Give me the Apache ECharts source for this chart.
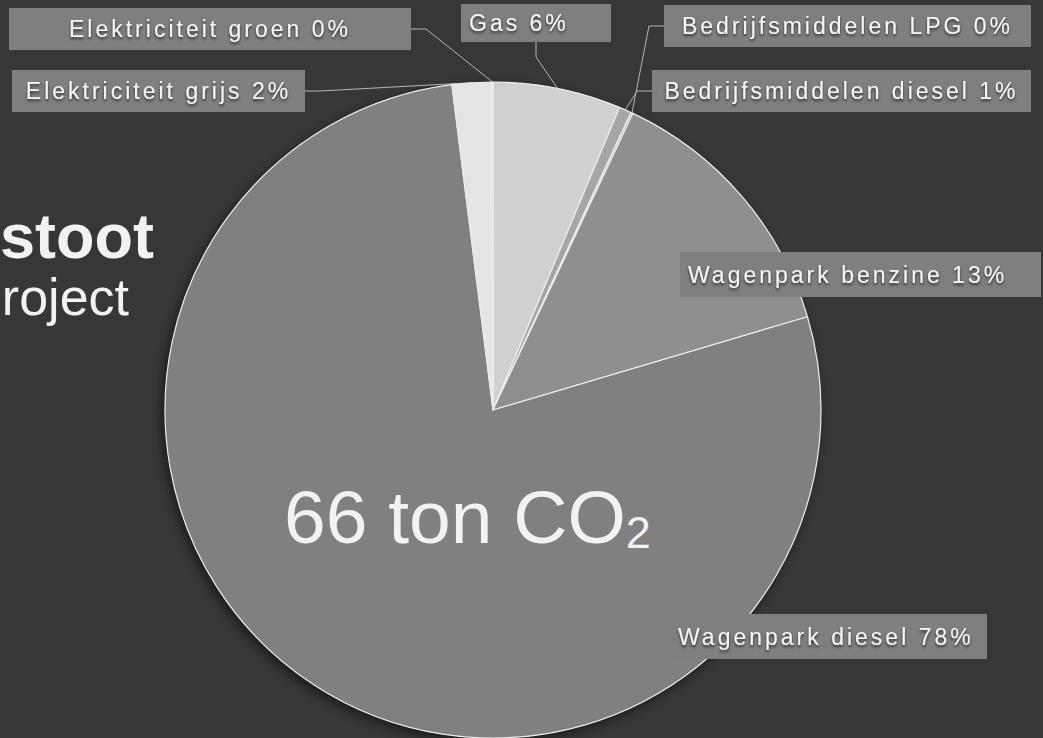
<!DOCTYPE html>
<html><head><meta charset="utf-8">
<script src="https://cdn.jsdelivr.net/npm/echarts@6/dist/echarts.min.js"></script>
<style>
html,body{margin:0;padding:0;background:#363739;overflow:hidden;}
#c{width:1043px;height:738px;}
#c svg text[style*="23px"]{letter-spacing:3px;}
</style></head><body><div id="c"></div>
<script>
// ---- data ----
const categories = ['Gas', 'Bedrijfsmiddelen diesel', 'Bedrijfsmiddelen LPG', 'Wagenpark benzine', 'Wagenpark diesel', 'Elektriciteit grijs', 'Elektriciteit groen'];
const tonsCO2 = [4.16, 0.40, 0.07, 8.84, 51.2, 1.29, 0.03];
const totalText = '66 ton CO';
const titleLines = ['stoot', 'roject'];

// ---- styling / layout ----
const sliceColors = ['#d1d0d1', '#a6a6a6', '#bdbdbd', '#8f8f8f', '#808080', '#e5e5e5', '#f2f2f2'];
const labelBoxes = [
  {x: 461, y: 4, w: 150, h: 38, align: 'left', line: true},
  {x: 652, y: 70, w: 379, h: 42, align: 'center', line: true},
  {x: 664, y: 5, w: 367, h: 42, align: 'center', line: true},
  {x: 680, y: 252, w: 361, h: 45, align: 'left', line: false},
  {x: 670, y: 614, w: 317, h: 45, align: 'left', line: false},
  {x: 12, y: 70, w: 293, h: 42, align: 'center', line: true},
  {x: 9, y: 8, w: 402, h: 42, align: 'center', line: true}
];
const CX = 493, CY = 410, R = 328;

const total = tonsCO2.reduce((a, b) => a + b, 0);
const pieData = categories.map((name, i) => ({
  name: name,
  value: tonsCO2[i],
  itemStyle: {color: sliceColors[i]},
  label: {width: labelBoxes[i].w - 16, lineHeight: labelBoxes[i].h, height: labelBoxes[i].h, align: labelBoxes[i].align},
  labelLine: {show: labelBoxes[i].line}
}));

const chart = echarts.init(document.getElementById('c'), null, {renderer: 'svg'});
chart.setOption({
  backgroundColor: '#363739',
  animation: false,
  graphic: [
    {type: 'text', x: 154, y: 236, style: {text: titleLines[0], font: 'bold 63px Arial', fill: '#f2f2f2', align: 'right', verticalAlign: 'middle'}},
    {type: 'text', x: 129, y: 297, style: {text: titleLines[1], font: '52px Arial', fill: '#f2f2f2', align: 'right', verticalAlign: 'middle'}},
    {type: 'text', x: 284, y: 517, z: 100, style: {
      text: '{a|' + totalText + '}{b|2}',
      align: 'left', verticalAlign: 'middle',
      rich: {
        a: {fontSize: 75, fontFamily: 'Arial', fill: '#f2f2f2'},
        b: {fontSize: 45, fontFamily: 'Arial', fill: '#f2f2f2', verticalAlign: 'bottom'}
      }
    }}
  ],
  series: [
    {
      type: 'pie', silent: true, z: 1,
      center: [CX, CY], radius: R,
      data: [{value: total, name: 'total'}],
      label: {show: false}, labelLine: {show: false},
      itemStyle: {color: '#808080', shadowBlur: 12, shadowOffsetX: -3, shadowOffsetY: 4, shadowColor: 'rgba(0,0,0,0.55)'}
    },
    {
      type: 'pie', z: 2,
      center: [CX, CY], radius: R,
      startAngle: 90, clockwise: true,
      avoidLabelOverlap: false,
      data: pieData,
      itemStyle: {borderColor: '#ececec', borderWidth: 1.2},
      label: {
        show: true, position: 'outside',
        formatter: p => p.name + ' ' + Math.round(p.percent) + '%',
        color: '#f5f5f5', fontSize: 23, fontFamily: 'Arial',
        backgroundColor: '#7f7f7f', padding: [0, 8],
        textShadowColor: 'rgba(0,0,0,0.65)', textShadowBlur: 3, textShadowOffsetY: 2
      },
      labelLine: {lineStyle: {color: '#b5b5b5', width: 1}, length: 20, length2: 15},
      labelLayout: function (p) {
        const b = labelBoxes[p.dataIndex];
        return {
          x: b.align === 'center' ? b.x + b.w / 2 : b.x,
          y: b.y,
          align: b.align,
          verticalAlign: 'top'
        };
      }
    }
  ]
});
</script>
</body></html>
